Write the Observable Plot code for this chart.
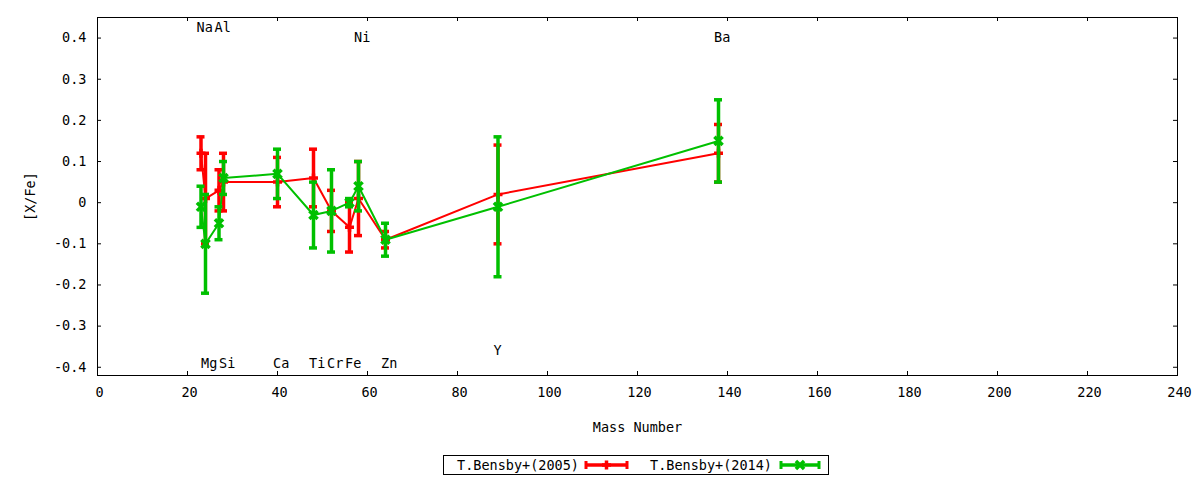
<!DOCTYPE html>
<html>
<head>
<meta charset="utf-8">
<script src="https://cdn.jsdelivr.net/npm/d3@7"></script>
<script src="https://cdn.jsdelivr.net/npm/@observablehq/plot@0.6"></script>
<style>
  html, body { margin: 0; padding: 0; background: #fff; }
  #chart svg { display: block; }
  #legend { display: block; }
</style>
</head>
<body>
<div id="chart"></div>
<svg id="legend" width="1200" height="35"></svg>
<script>
// ---- data ----
const elements = ["Na", "Mg", "Al", "Si", "Ca", "Ti", "Cr", "Fe", "Ni", "Zn", "Y", "Ba"];
const masses   = [23, 24, 27, 28, 40, 48, 52, 56, 58, 64, 89, 138];

const xfe2005  = [0.12, 0.01, 0.03, 0.05, 0.05, 0.06, -0.02, -0.06, 0.01, -0.09, 0.02, 0.12];
const err2005  = [0.04, 0.11, 0.05, 0.07, 0.06, 0.07, 0.05, 0.06, 0.09, 0.02, 0.12, 0.07];

const xfe2014  = [-0.01, -0.10, -0.05, 0.06, 0.07, -0.03, -0.02, 0.00, 0.04, -0.09, -0.01, 0.15];
const err2014  = [0.05, 0.12, 0.04, 0.04, 0.06, 0.08, 0.10, 0.01, 0.06, 0.04, 0.17, 0.10];

const labelNames = ["Na", "Al", "Ni", "Ba", "Mg", "Si", "Ca", "Ti", "Cr", "Fe", "Zn", "Y"];
const labelMass  = [23, 27, 58, 138, 24, 28, 40, 48, 52, 56, 64, 89];
const labelY     = [0.425, 0.425, 0.40, 0.40, -0.392, -0.392, -0.392, -0.392, -0.392, -0.392, -0.392, -0.36];

const xTicks = [0, 20, 40, 60, 80, 100, 120, 140, 160, 180, 200, 220, 240];
const yTicks = [-0.4, -0.3, -0.2, -0.1, 0, 0.1, 0.2, 0.3, 0.4];

const seriesNames = ["T.Bensby+(2005)", "T.Bensby+(2014)"];
const seriesColors = ["#ff0000", "#00c000"];

// ---- tables ----
function table(vals, errs) {
  return elements.map((el, i) => ({el, mass: masses[i], v: vals[i], lo: vals[i] - errs[i], hi: vals[i] + errs[i]}));
}
const d2005 = table(xfe2005, err2005);
const d2014 = table(xfe2014, err2014);
const labels = labelNames.map((n, i) => ({n, mass: labelMass[i], y: labelY[i]}));

const W = 1200, H = 445, mL = 97, mR = 23, mT = 17, mB = 70;
const frameW = W - mL - mR, frameH = H - mT - mB;
const tk = 4;
const font = "DejaVu Sans Mono";
const symR = {plus: 3, times: 3.8};

function seriesMarks(data, color, symbol) {
  return [
    Plot.line(data, {x: "mass", y: "v", stroke: color, strokeWidth: 2}),
    Plot.ruleX(data, {x: "mass", y1: "lo", y2: "hi", stroke: color, strokeWidth: 3.5}),
    Plot.ruleY(data, {y: "lo", x1: "mass", x2: "mass", insetLeft: -4, insetRight: -4, stroke: color, strokeWidth: 3.5}),
    Plot.ruleY(data, {y: "hi", x1: "mass", x2: "mass", insetLeft: -4, insetRight: -4, stroke: color, strokeWidth: 3.5}),
    Plot.dot(data, {x: "mass", y: "v", symbol, r: symR[symbol], stroke: color, strokeWidth: 3.5, fill: "none"})
  ];
}

const yFmt = d => Math.abs(d) < 1e-9 ? "0" : d.toFixed(1);

const chart = Plot.plot({
  width: W, height: H,
  marginLeft: mL, marginRight: mR, marginTop: mT, marginBottom: mB,
  style: {fontFamily: font, fontSize: "13.5px", color: "black", background: "white"},
  x: {domain: [0, 240]},
  y: {domain: [-0.42, 0.45]},
  marks: [
    Plot.axisX(xTicks, {anchor: "bottom", tickSize: 0, tickPadding: 12, dx: 2, tickFormat: d => String(d),
      label: "Mass Number", labelAnchor: "center", labelOffset: 56, labelArrow: "none", fontSize: 13.5}),
    Plot.axisY(yTicks, {anchor: "left", tickSize: 0, tickPadding: 11, tickFormat: yFmt,
      label: "[X/Fe]", labelAnchor: "center", labelOffset: 72, labelArrow: "none", fontSize: 13.5}),
    // inward ticks on all four sides
    Plot.tickX(xTicks, {x: d => d, insetTop: frameH - tk, stroke: "black"}),
    Plot.tickX(xTicks, {x: d => d, insetBottom: frameH - tk, stroke: "black"}),
    Plot.tickY(yTicks, {y: d => d, insetRight: frameW - tk, stroke: "black"}),
    Plot.tickY(yTicks, {y: d => d, insetLeft: frameW - tk, stroke: "black"}),
    Plot.frame({stroke: "black", strokeWidth: 1}),
    ...seriesMarks(d2005, seriesColors[0], "plus"),
    ...seriesMarks(d2014, seriesColors[1], "times"),
    Plot.text(labels, {x: "mass", y: "y", text: "n", textAnchor: "start", dx: -4.5, fill: "black", fontSize: 13.5})
  ]
});
document.getElementById("chart").appendChild(chart);

// ---- legend (below the plot) ----
const lg = d3.select("#legend");
lg.append("rect").attr("x", 443.5).attr("y", 10.5).attr("width", 385).attr("height", 19)
  .attr("fill", "white").attr("stroke", "black");
const items = [
  {name: seriesNames[0], color: seriesColors[0], tx: 457, x1: 586, x2: 627, sym: "plus"},
  {name: seriesNames[1], color: seriesColors[1], tx: 650, x1: 781, x2: 819, sym: "times"}
];
for (const it of items) {
  lg.append("text").attr("x", it.tx).attr("y", 20).attr("dominant-baseline", "central")
    .attr("font-family", font).attr("font-size", "13.5px").text(it.name);
  lg.append("line").attr("x1", it.x1).attr("x2", it.x2).attr("y1", 20).attr("y2", 20)
    .attr("stroke", it.color).attr("stroke-width", 3.5);
  for (const xx of [it.x1, it.x2]) {
    lg.append("line").attr("x1", xx).attr("x2", xx).attr("y1", 16).attr("y2", 24)
      .attr("stroke", it.color).attr("stroke-width", 3);
  }
  const mx = (it.x1 + it.x2) / 2;
  const symType = it.sym === "plus" ? d3.symbolPlus : d3.symbolTimes;
  lg.append("path").attr("transform", `translate(${mx},20)`)
    .attr("d", d3.symbol(symType, Math.PI * symR[it.sym] ** 2)())
    .attr("fill", "none").attr("stroke", it.color).attr("stroke-width", 3.5);
}
</script>
</body>
</html>
